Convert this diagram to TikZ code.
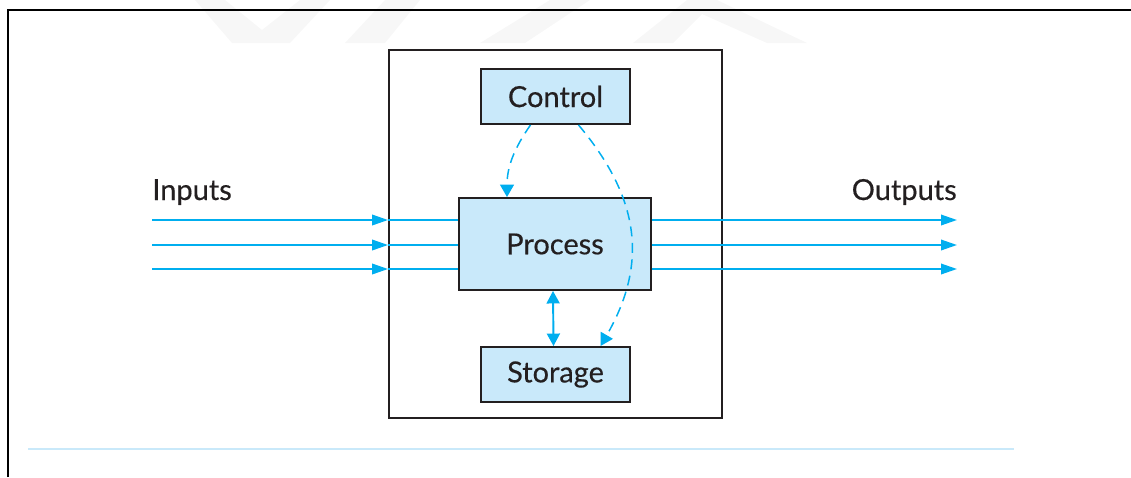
\documentclass[tikz,border=0pt]{standalone}
\usepackage{fontspec}
\setmainfont{Lato}[FakeBold=0.4]
\usetikzlibrary{arrows.meta, positioning}
\definecolor{flowblue}{HTML}{00AEEF}
\definecolor{boxfill}{HTML}{C9E9FA}
\definecolor{ink}{HTML}{231F20}
\tikzset{
unit/.style={ % Boxes inside the system
    draw=ink, line width=1.1pt, fill=boxfill, text=ink,
    minimum width=2.98cm, minimum height=1.1cm,
    font=\fontsize{16.5}{19}\selectfont},
iolabel/.style={ % Inputs / Outputs captions
    text=ink, inner sep=0pt, font=\fontsize{16.5}{19}\selectfont},
flowline/.style={ % Plain blue line, no tip
    draw=flowblue, line width=1.1pt},
flow/.style={ % Blue data lines with a filled tip
    flowline, -{Triangle[length=0.32cm,width=0.21cm]}},
signal/.style={ % Dashed control lines
    draw=flowblue, line width=0.85pt, dash pattern=on 0.2cm off 0.13cm,
    -{Triangle[length=0.25cm,width=0.28cm]}}}

\begin{document}
\begin{tikzpicture}[x=0.02cm, y=-0.02cm]
    \useasboundingbox (0,0) rectangle (1131,477);

    % faint marks along the top edge
    \fill[gray!6] (195,0) -- (232,43) -- (290,43) -- (330,0) -- (300,0) -- (262,30) -- (225,0) -- cycle;
    \fill[gray!6] (345,43) -- (385,43) -- (420,0) -- (385,0) -- cycle;
    \fill[gray!6] (480,43) -- (525,43) -- (590,0) -- (550,0) -- cycle;
    \fill[gray!6] (633,43) -- (687,0) -- (717,0) -- (807,43) -- (767,43) -- (702,14) -- (673,43) -- cycle;

    % page frame
    \draw[line width=1.4pt] (8,477) -- (8,10) -- (1131,10);

    \node[draw=ink, line width=1.1pt, minimum width=6.66cm, minimum height=7.36cm] (system) at (555.5,234) {};
    \node[unit] (control) at (555.5,96.5) {Control};
    \node[unit, minimum width=3.84cm, minimum height=1.84cm] (process) at (555,244) {Process};
    \node[unit] (storage) at (555.5,374.5) {Storage};

    \node[iolabel, anchor=base west] (inputs) at (152,200) {Inputs};
    \node[iolabel, anchor=base east] (outputs) at (957,200) {Outputs};

    \foreach \y [count=\i] in {220,245,269} {
        \coordinate (in\i) at (152,\y);
        \coordinate (out\i) at (957,\y);
        \draw[flow] (in\i) -- (in\i -| system.west);
        \draw[flowline] (in\i -| system.west) -- (in\i -| process.west);
        \draw[flow] (process.east |- out\i) -- (out\i);
    }

    \draw[flowline, {Triangle[length=0.25cm,width=0.26cm]}-{Triangle[length=0.25cm,width=0.26cm]}]
        ([xshift=-0.04cm]process.south) -- ([xshift=-0.04cm]storage.north);

    \draw[signal] ([xshift=-0.5cm]control.south) to[out=-125, in=90] ([xshift=-0.96cm]process.north);
    \draw[signal] ([xshift=0.46cm]control.south) to[out=-50, in=60, looseness=1.1] ([xshift=0.9cm]storage.north);

    % rule under the figure
    \draw[boxfill, line width=1.2pt] (28,449) -- (1014,449);

\end{tikzpicture}
\end{document}
